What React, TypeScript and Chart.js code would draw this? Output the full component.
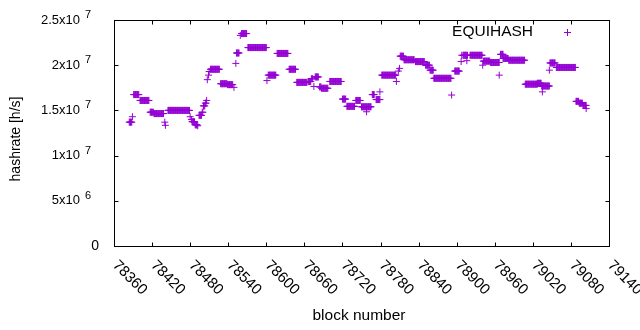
import React, { useEffect, useRef } from "react";
import { Chart, registerables } from "chart.js";

Chart.register(...registerables);

// Runs of constant hashrate: [first block, last block] -> value (millions h/s)
const runStart = [
  78384, 78389, 78391, 78401, 78417, 78423, 78440, 78441, 78445, 78480,
  78482, 78483, 78488, 78492, 78494, 78499, 78501, 78504, 78506, 78507,
  78509, 78510, 78512, 78528, 78539, 78549, 78552, 78553, 78559, 78561,
  78571, 78601, 78603, 78617, 78636, 78648, 78666, 78671, 78675, 78677,
  78684, 78687, 78700, 78720, 78727, 78741, 78750, 78758, 78767, 78773,
  78779, 78782, 78805, 78808, 78810, 78811, 78817, 78835, 78851, 78858,
  78864, 78892, 78897, 78907, 78908, 78910, 78916, 78921, 78941, 78942,
  78953, 78967, 78969, 78973, 78982, 79008, 79027, 79034, 79035, 79046,
  79047, 79057, 79088, 79093, 79099, 79104,
];
const runEnd = [
  78388, 78389, 78399, 78415, 78422, 78438, 78440, 78441, 78479, 78480,
  78482, 78487, 78491, 78492, 78498, 78500, 78503, 78505, 78506, 78507,
  78509, 78510, 78526, 78538, 78547, 78549, 78552, 78557, 78559, 78569,
  78600, 78601, 78615, 78634, 78646, 78664, 78670, 78673, 78675, 78682,
  78686, 78697, 78718, 78725, 78739, 78748, 78765, 78758, 78770, 78779,
  78779, 78804, 78805, 78808, 78810, 78816, 78833, 78849, 78857, 78863,
  78891, 78892, 78904, 78907, 78908, 78917, 78916, 78940, 78941, 78952,
  78967, 78967, 78973, 78981, 79007, 79027, 79033, 79046, 79035, 79046,
  79055, 79087, 79092, 79098, 79104, 79104,
];
const runValue = [
  13.7, 14.3, 16.75, 16.1, 14.8, 14.65, 13.7, 13.35, 15.0, 14.3,
  14.0, 13.75, 13.4, 13.3, 14.45, 14.8, 15.5, 15.8, 16.1, 18.4,
  18.9, 19.3, 19.55, 17.95, 17.85, 17.55, 20.2, 21.35, 23.3, 23.5,
  21.95, 18.3, 18.9, 21.3, 19.55, 18.1, 18.2, 18.5, 17.65, 18.7,
  17.6, 17.45, 18.2, 16.25, 15.45, 16.1, 15.4, 14.85, 16.75, 16.2,
  17.05, 18.9, 18.2, 19.35, 19.65, 21.0, 20.6, 20.4, 20.0, 19.45,
  18.55, 16.7, 19.35, 20.4, 21.1, 21.1, 20.5, 21.1, 20.0, 20.45,
  20.3, 18.9, 21.2, 20.75, 20.55, 17.9, 18.0, 17.7, 17.05, 19.45,
  20.25, 19.75, 16.0, 15.8, 15.55, 15.2,
];

const xTicks = [78360, 78420, 78480, 78540, 78600, 78660, 78720, 78780, 78840, 78900, 78960, 79020, 79080, 79140];
const yTicks = [0, 5e6, 1e7, 1.5e7, 2e7, 2.5e7];
const yTickMantissa = ["0", "5", "1", "1.5", "2", "2.5"];
const yTickExp = ["", "6", "7", "7", "7", "7"];
const seriesLabel = "EQUIHASH";
const xTitle = "block number";
const yTitle = "hashrate [h/s]";

const COLOR = "#9400d3";
const FONT = "'Liberation Sans', Arial, sans-serif";

function drawCross(ctx: CanvasRenderingContext2D, x: number, y: number, r: number) {
  ctx.beginPath();
  ctx.moveTo(x - r, y);
  ctx.lineTo(x + r, y);
  ctx.moveTo(x, y - r);
  ctx.lineTo(x, y + r);
  ctx.stroke();
}

const decorPlugin = {
  id: "gnuplotDecor",
  beforeDraw(chart: any) {
    const ctx = chart.ctx;
    ctx.save();
    ctx.fillStyle = "#fff";
    ctx.fillRect(0, 0, chart.width, chart.height);
    ctx.restore();
  },
  afterDatasetsDraw(chart: any) {
    const ctx: CanvasRenderingContext2D = chart.ctx;
    const a = chart.chartArea;
    const xs = chart.scales.x;
    const ys = chart.scales.y;
    const L = Math.round(a.left) + 0.5;
    const R = Math.round(a.right) + 0.5;
    const T = Math.round(a.top) + 0.5;
    const B = Math.round(a.bottom) + 0.5;
    const tl = 4;
    ctx.save();
    ctx.strokeStyle = "#000";
    ctx.lineWidth = 1;
    ctx.strokeRect(L, T, R - L, B - T);
    ctx.beginPath();
    xTicks.forEach((v) => {
      const px = Math.round(xs.getPixelForValue(v)) + 0.5;
      ctx.moveTo(px, B);
      ctx.lineTo(px, B - tl);
      ctx.moveTo(px, T);
      ctx.lineTo(px, T + tl);
    });
    yTicks.forEach((v) => {
      const py = Math.round(ys.getPixelForValue(v)) + 0.5;
      ctx.moveTo(L, py);
      ctx.lineTo(L + tl, py);
      ctx.moveTo(R, py);
      ctx.lineTo(R - tl, py);
    });
    ctx.stroke();

    ctx.fillStyle = "#000";
    // x tick labels, rotated 45deg clockwise
    ctx.font = `15px ${FONT}`;
    ctx.textAlign = "left";
    ctx.textBaseline = "middle";
    xTicks.forEach((v) => {
      const px = xs.getPixelForValue(v);
      ctx.save();
      ctx.translate(px + 1, a.bottom + 17);
      ctx.rotate(Math.PI / 4);
      ctx.fillText(String(v), 0, 0);
      ctx.restore();
    });
    // y tick labels
    yTicks.forEach((v, i) => {
      const py = ys.getPixelForValue(v);
      if (yTickExp[i]) {
        ctx.font = `13px ${FONT}`;
        ctx.textAlign = "right";
        ctx.fillText(yTickMantissa[i] + "x10", 80, py);
        ctx.font = `11px ${FONT}`;
        ctx.textAlign = "left";
        ctx.fillText(yTickExp[i], 85, py - 5);
      } else {
        ctx.font = `14px ${FONT}`;
        ctx.textAlign = "right";
        ctx.fillText(yTickMantissa[i], 99, py);
      }
    });
    // axis titles
    ctx.font = `15.5px ${FONT}`;
    ctx.textAlign = "center";
    ctx.fillText(xTitle, 359, 316);
    ctx.save();
    ctx.font = `14px ${FONT}`;
    ctx.translate(16, 139);
    ctx.rotate(-Math.PI / 2);
    ctx.fillText(yTitle, 0, 0);
    ctx.restore();
    // legend
    ctx.font = `15.5px ${FONT}`;
    ctx.textAlign = "right";
    ctx.fillText(seriesLabel, 533, 32);
    ctx.strokeStyle = COLOR;
    drawCross(ctx, 567.5, 32.5, 3.5);
    ctx.restore();
  },
};

export default function App() {
  const ref = useRef<HTMLCanvasElement | null>(null);
  useEffect(() => {
    if (!ref.current) return;
    const points: { x: number; y: number }[] = [];
    runStart.forEach((s, i) => {
      for (let b = s; b <= runEnd[i]; b++) points.push({ x: b, y: runValue[i] * 1e6 });
    });
    const chart = new Chart(ref.current, {
      type: "scatter",
      data: {
        datasets: [
          {
            label: seriesLabel,
            data: points,
            pointStyle: "cross",
            pointRadius: 3.5,
            pointHoverRadius: 3.5,
            pointBorderWidth: 1,
            pointBorderColor: COLOR,
            pointBackgroundColor: COLOR,
            showLine: false,
          },
        ],
      },
      options: {
        responsive: false,
        animation: false,
        devicePixelRatio: 1,
        events: [],
        layout: { padding: { left: 114, right: 31, top: 20, bottom: 84 } },
        plugins: { legend: { display: false }, tooltip: { enabled: false } },
        scales: {
          x: {
            type: "linear",
            min: 78360,
            max: 79140,
            ticks: { display: false },
            grid: { display: false },
            border: { display: false },
            afterFit: (s: any) => {
              s.height = 0;
            },
          },
          y: {
            type: "linear",
            min: 0,
            max: 2.5e7,
            ticks: { display: false },
            grid: { display: false },
            border: { display: false },
            afterFit: (s: any) => {
              s.width = 0;
            },
          },
        },
      },
      plugins: [decorPlugin],
    });
    return () => chart.destroy();
  }, []);
  return (
    <div style={{ position: "absolute", left: 0, top: 0, width: 640, height: 330 }}>
      <canvas ref={ref} width={640} height={330} style={{ display: "block" }} />
    </div>
  );
}
